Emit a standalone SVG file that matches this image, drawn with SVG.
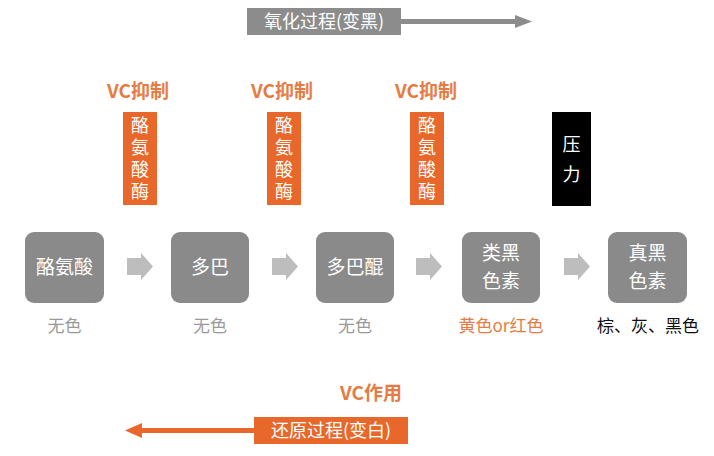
<svg xmlns="http://www.w3.org/2000/svg" width="714" height="456" viewBox="0 0 714 456">
<style>
text{font-family:"Noto Sans CJK SC","Noto Sans",sans-serif}
.node{fill:#8a8a8a}
.nt{fill:#fff;font-size:19px;text-anchor:middle}
.sub{fill:#9a9a9a;font-size:17px;text-anchor:middle}
.vc{fill:#e57c45;font-size:19px;font-weight:bold;text-anchor:middle}
.enz{fill:#e8672a}
.et{fill:#fff;font-size:18px;writing-mode:vertical-rl;letter-spacing:4px;text-anchor:middle}
.garr{fill:#bdbdbd}
</style>
<defs>
<path id="ba" d="M0,5 H14 V0 L26,13.5 L14,27 V22 H0 Z"/>
</defs>
<rect width="714" height="456" fill="#fff"/>

<g id="oxidation">
<rect x="247" y="8" width="154" height="27" fill="#8c8c8c"/>
<text x="324" y="28" fill="#fff" font-size="18" text-anchor="middle">氧化过程(变黑)</text>
<rect x="400" y="19" width="118" height="5" fill="#8c8c8c"/>
<polygon points="515,15 532,21.5 515,28" fill="#8c8c8c"/>
</g>

<g id="enzyme1">
<text class="vc" x="138" y="98">VC抑制</text>
<rect class="enz" x="123" y="112" width="34" height="93"/>
<text class="et" x="140" y="160">酪氨酸酶</text>
</g>
<g id="enzyme2">
<text class="vc" x="282" y="98">VC抑制</text>
<rect class="enz" x="267" y="112" width="34" height="93"/>
<text class="et" x="284" y="160">酪氨酸酶</text>
</g>
<g id="enzyme3">
<text class="vc" x="426" y="98">VC抑制</text>
<rect class="enz" x="410" y="112" width="34" height="93"/>
<text class="et" x="427" y="160">酪氨酸酶</text>
</g>
<g id="pressure">
<rect x="552" y="112" width="39" height="94" fill="#000"/>
<text x="571.5" y="151" fill="#fff" font-size="18" text-anchor="middle">压</text>
<text x="571.5" y="181" fill="#fff" font-size="18" text-anchor="middle">力</text>
</g>

<g id="tyrosine">
<rect class="node" x="25" y="232" width="79" height="71" rx="9"/>
<text class="nt" x="64.5" y="274">酪氨酸</text>
<text class="sub" x="64.5" y="332">无色</text>
</g>
<g id="dopa">
<rect class="node" x="171" y="232" width="78" height="71" rx="9"/>
<text class="nt" x="210" y="274">多巴</text>
<text class="sub" x="210" y="332">无色</text>
</g>
<g id="dopaquinone">
<rect class="node" x="316" y="232" width="78" height="71" rx="9"/>
<text class="nt" x="355" y="274">多巴醌</text>
<text class="sub" x="355" y="332">无色</text>
</g>
<g id="pheomelanin">
<rect class="node" x="462" y="232" width="78" height="71" rx="9"/>
<text class="nt" x="501" y="260">类黑</text>
<text class="nt" x="501" y="288">色素</text>
<text class="sub" x="501" y="332" style="fill:#e57c45">黄色or红色</text>
</g>
<g id="eumelanin">
<rect class="node" x="608" y="232" width="79" height="71" rx="9"/>
<text class="nt" x="647.5" y="260">真黑</text>
<text class="nt" x="647.5" y="288">色素</text>
<text class="sub" x="648" y="332" style="fill:#111">棕、灰、黑色</text>
</g>

<g id="connectors">
<use href="#ba" x="127" y="253" class="garr"/>
<use href="#ba" x="272" y="253" class="garr"/>
<use href="#ba" x="416" y="253" class="garr"/>
<use href="#ba" x="564" y="253" class="garr"/>
</g>

<g id="reduction">
<text class="vc" x="371" y="400">VC作用</text>
<rect class="enz" x="254" y="417" width="154" height="27"/>
<text x="331" y="437" fill="#fff" font-size="18" text-anchor="middle">还原过程(变白)</text>
<rect x="140" y="428" width="115" height="5" fill="#e8672a"/>
<polygon points="142,423 125,430.5 142,438" fill="#e8672a"/>
</g>
</svg>
